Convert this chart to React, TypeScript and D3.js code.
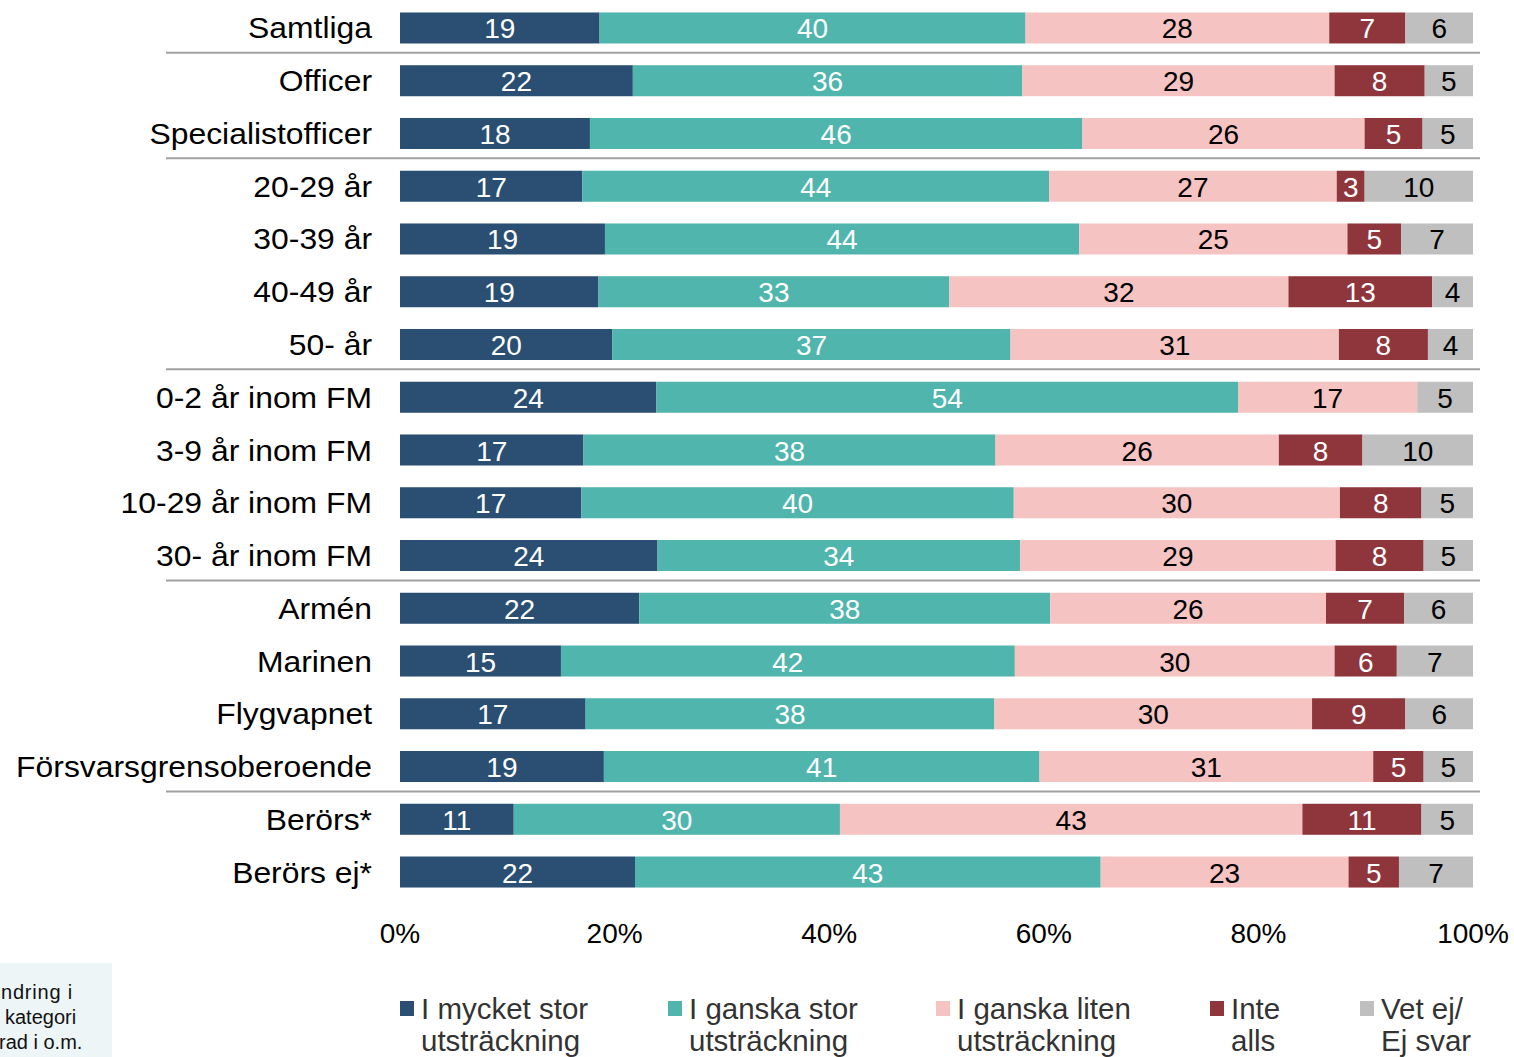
import React from "react";
import * as d3 from "d3";

const categories = [
  "Samtliga", "Officer", "Specialistofficer", "20-29 år", "30-39 år", "40-49 år", "50- år",
  "0-2 år inom FM", "3-9 år inom FM", "10-29 år inom FM", "30- år inom FM",
  "Armén", "Marinen", "Flygvapnet", "Försvarsgrensoberoende", "Berörs*", "Berörs ej*",
];

const mycketStor = [18.6, 21.7, 17.7, 17.0, 19.1, 18.5, 19.8, 23.9, 17.1, 16.9, 24.0, 22.3, 15.0, 17.3, 19.0, 10.6, 21.9];
const ganskaStor = [39.7, 36.3, 45.9, 43.5, 44.2, 32.7, 37.1, 54.2, 38.4, 40.3, 33.8, 38.3, 42.3, 38.1, 40.6, 30.4, 43.4];
const ganskaLiten = [28.3, 29.1, 26.3, 26.8, 25.0, 31.6, 30.6, 16.7, 26.4, 30.4, 29.4, 25.7, 29.8, 29.6, 31.1, 43.1, 23.1];
const inteAlls = [7.1, 8.4, 5.4, 2.6, 5.0, 13.4, 8.3, 0, 7.8, 7.6, 8.2, 7.3, 5.8, 8.7, 4.7, 11.1, 4.7];
const vetEj = [6.3, 4.5, 4.7, 10.1, 6.7, 3.8, 4.2, 5.2, 10.3, 4.8, 4.6, 6.4, 7.1, 6.3, 4.6, 4.8, 6.9];

const seriesNames = [
  ["I mycket stor", "utsträckning"],
  ["I ganska stor", "utsträckning"],
  ["I ganska liten", "utsträckning"],
  ["Inte", "alls"],
  ["Vet ej/", "Ej svar"],
];
const seriesColors = ["#2a4f72", "#4fb5ad", "#f6c3c3", "#8f353c", "#bfbfbf"];
const labelColors = ["#ffffff", "#ffffff", "#000000", "#ffffff", "#000000"];

// separators drawn after these rows
const separatorsAfter = ["Samtliga", "Specialistofficer", "50- år", "30- år inom FM", "Försvarsgrensoberoende"];

const xTicks = [0, 20, 40, 60, 80, 100];

const noteLines = ["ndring i", "kategori", "rad i o.m."];

const FONT = "'Liberation Sans', Arial, sans-serif";

export default function App() {
  const W = 1514;
  const H = 1057;
  const x = d3.scaleLinear().domain([0, 100]).range([400, 1473]);
  const y = d3
    .scaleBand<string>()
    .domain(categories)
    .range([1.6, 898.4])
    .paddingInner(0.412)
    .paddingOuter(0.206);
  const bw = y.bandwidth();

  const seriesData = [mycketStor, ganskaStor, ganskaLiten, inteAlls, vetEj];
  const rows = categories.map((c, i) => {
    const vals = seriesData.map((s) => s[i]);
    let acc = 0;
    return vals.map((v, k) => {
      const seg = { cat: c, k, v, x0: acc, x1: acc + v };
      acc += v;
      return seg;
    });
  });

  const legendX = [400, 668, 936, 1210, 1360];

  return (
    <div style={{ position: "absolute", left: 0, top: 0 }}>
      <svg width={W} height={H} style={{ display: "block", fontFamily: FONT }}>
        <rect x={0} y={0} width={W} height={H} fill="#ffffff" />
        {/* note box bottom-left */}
        <rect x={0} y={963} width={112} height={94} fill="#edf5f7" />
        {noteLines.map((t, i) => (
          <text
            key={t}
            x={i === 1 ? 5 : i === 0 ? 1 : -1}
            y={999 + i * 25}
            fontSize={20}
            fill="#111"
            letterSpacing={i === 0 ? 0.8 : 0}
          >
            {t}
          </text>
        ))}

        {/* separators */}
        {separatorsAfter.map((c) => {
          const yy = (y(c) as number) + bw + (y.step() - bw) / 2 - 1.5;
          return <line key={c} x1={166} x2={1480} y1={yy} y2={yy} stroke="#a0a0a0" strokeWidth={2} />;
        })}

        {/* category labels */}
        {categories.map((c) => (
          <text
            key={c}
            transform={`translate(372,${(y(c) as number) + bw / 2 + 10.5}) scale(1.062,1)`}
            textAnchor="end"
            fontSize={30}
            fill="#000"
          >
            {c}
          </text>
        ))}

        {/* bars */}
        {rows.map((segs) =>
          segs.map((s) =>
            s.v > 0 ? (
              <rect
                key={s.cat + s.k}
                x={x(s.x0)}
                y={y(s.cat)}
                width={x(s.x1) - x(s.x0)}
                height={bw}
                fill={seriesColors[s.k]}
              />
            ) : null
          )
        )}

        {/* value labels */}
        {rows.map((segs) =>
          segs.map((s) =>
            s.v > 0 ? (
              <text
                key={"l" + s.cat + s.k}
                x={(x(s.x0) + x(s.x1)) / 2}
                y={(y(s.cat) as number) + bw / 2 + 10.5}
                textAnchor="middle"
                fontSize={28}
                fill={labelColors[s.k]}
              >
                {Math.round(s.v)}
              </text>
            ) : null
          )
        )}

        {/* x axis labels */}
        {xTicks.map((t) => (
          <text key={t} x={x(t)} y={943} textAnchor="middle" fontSize={28} fill="#000">
            {t + "%"}
          </text>
        ))}

        {/* legend */}
        {seriesNames.map((lines, k) => (
          <g key={k}>
            <rect x={legendX[k]} y={1001} width={14} height={15} fill={seriesColors[k]} />
            {lines.map((ln, j) => (
              <text key={j} x={legendX[k] + 21} y={1019 + j * 32} fontSize={29.5} fill="#333">
                {ln}
              </text>
            ))}
          </g>
        ))}
      </svg>
    </div>
  );
}
